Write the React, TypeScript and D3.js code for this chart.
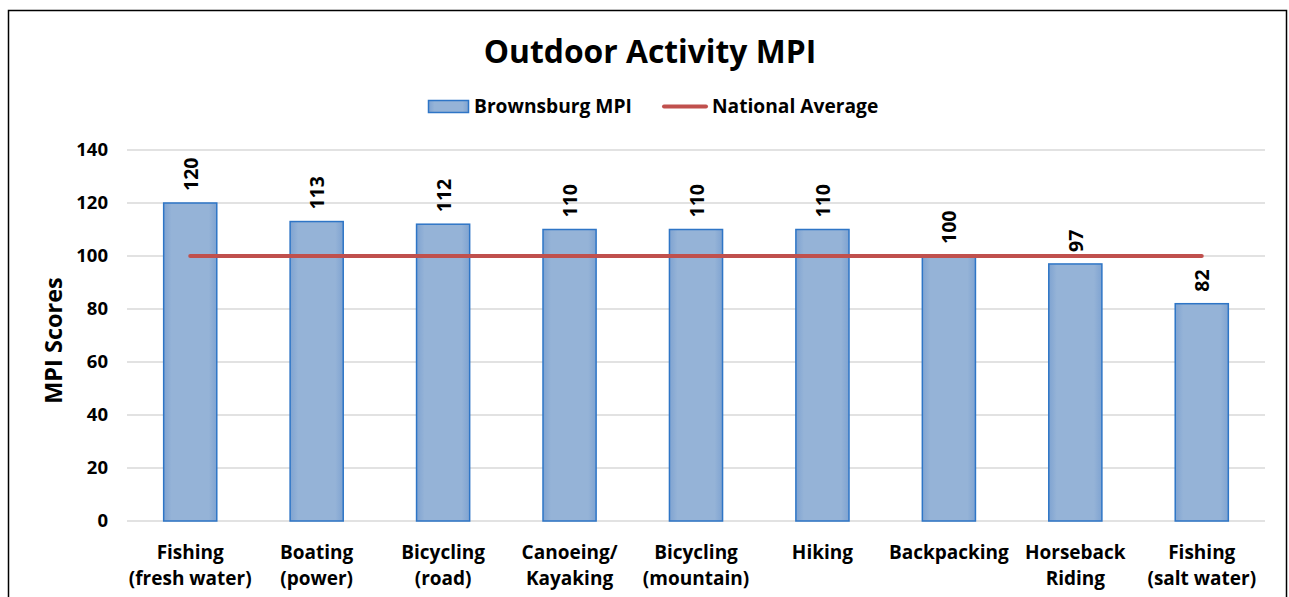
import React from "react";
import * as d3 from "d3";

const categories = [
  ["Fishing", "(fresh water)"],
  ["Boating", "(power)"],
  ["Bicycling", "(road)"],
  ["Canoeing/", "Kayaking"],
  ["Bicycling", "(mountain)"],
  ["Hiking"],
  ["Backpacking"],
  ["Horseback", "Riding"],
  ["Fishing", "(salt water)"],
];
const brownsburgMPI = [120, 113, 112, 110, 110, 110, 100, 97, 82];
const nationalAverage = [100, 100, 100, 100, 100, 100, 100, 100, 100];
const yTicks = [0, 20, 40, 60, 80, 100, 120, 140];

const W = 1289;
const H = 597;
const FONT = "'Open Sans', Lato, sans-serif";

export default function App() {
  const left = 127, right = 1265, top = 150, bottom = 521;
  const idx = categories.map((_, i) => String(i));
  const x = d3.scaleBand().domain(idx).range([left, right]).paddingInner(0.58).paddingOuter(0.29);
  const y = d3.scaleLinear().domain([0, 140]).range([bottom, top]);
  const line = d3
    .line<number>()
    .x((_, i) => (x(String(i)) as number) + x.bandwidth() / 2)
    .y((d) => y(d));

  return (
    <svg width={W} height={H} style={{ position: "absolute", left: 0, top: 0 }}>
      <defs>
        <linearGradient id="barGrad" x1="0" x2="1" y1="0" y2="0">
          <stop offset="0" stopColor="#7fa3d1" />
          <stop offset="0.15" stopColor="#95b3d7" />
          <stop offset="0.85" stopColor="#95b3d7" />
          <stop offset="1" stopColor="#7fa3d1" />
        </linearGradient>
      </defs>
      <rect x={0} y={0} width={W} height={H} fill="#fff" />
      <rect x={8.5} y={10.5} width={1278} height={H + 20} fill="#fff" stroke="#000" strokeWidth={1.5} />
      <text x={650} y={63} textAnchor="middle" fontFamily={FONT} fontWeight="bold" fontSize={31.8} fill="#000">
        Outdoor Activity MPI
      </text>
      {/* legend */}
      <rect x={428.5} y={100.5} width={40} height={12} fill="url(#barGrad)" stroke="#2e75c6" strokeWidth={1.5} />
      <text x={474} y={113} fontFamily={FONT} fontWeight="bold" fontSize={19.2} fill="#000">
        Brownsburg MPI
      </text>
      <line x1={664} x2={706} y1={106.5} y2={106.5} stroke="#c0504d" strokeWidth={4} strokeLinecap="round" />
      <text x={712} y={113} fontFamily={FONT} fontWeight="bold" fontSize={19.2} fill="#000">
        National Average
      </text>
      {/* grid */}
      {yTicks.map((t) => (
        <g key={t}>
          <line x1={left} x2={right} y1={y(t)} y2={y(t)} stroke="#d9d9d9" strokeWidth={1.5} />
          <text x={108} y={y(t) + 6} textAnchor="end" fontFamily={FONT} fontWeight="bold" fontSize={18.5} fill="#000">
            {t}
          </text>
        </g>
      ))}
      <text
        transform={`translate(62,${(top + bottom) / 2 + 5}) rotate(-90)`}
        textAnchor="middle"
        fontFamily={FONT}
        fontWeight="bold"
        fontSize={23.5}
        fill="#000"
      >
        MPI Scores
      </text>
      {/* bars */}
      {brownsburgMPI.map((v, i) => {
        const bx = x(String(i)) as number;
        return (
          <rect
            key={i}
            x={bx}
            y={y(v)}
            width={x.bandwidth()}
            height={bottom - y(v)}
            fill="url(#barGrad)"
            stroke="#2e75c6"
            strokeWidth={1.5}
          />
        );
      })}
      <path d={line(nationalAverage) || ""} fill="none" stroke="#c0504d" strokeWidth={4} strokeLinecap="round" />
      {/* value labels */}
      {brownsburgMPI.map((v, i) => {
        const cx = (x(String(i)) as number) + x.bandwidth() / 2;
        return (
          <text
            key={i}
            transform={`translate(${cx + 7.5},${y(v) - 12}) rotate(-90)`}
            textAnchor="start"
            fontFamily={FONT}
            fontWeight="bold"
            fontSize={19.5}
            fill="#000"
          >
            {v}
          </text>
        );
      })}
      {/* category labels */}
      {categories.map((lines, i) => {
        const cx = (x(String(i)) as number) + x.bandwidth() / 2;
        return (
          <text key={i} textAnchor="middle" fontFamily={FONT} fontWeight="bold" fontSize={19} fill="#000">
            {lines.map((l, j) => (
              <tspan key={j} x={cx} y={559 + j * 26}>
                {l}
              </tspan>
            ))}
          </text>
        );
      })}
    </svg>
  );
}
